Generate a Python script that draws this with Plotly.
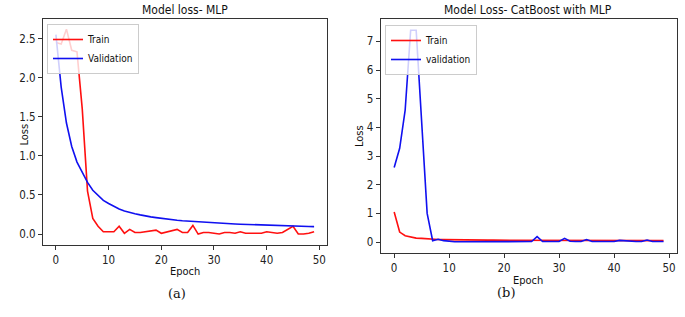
import plotly.graph_objects as go

epochs = list(range(50))

# Panel (a): MLP
mlp_train = [2.45, 2.43, 2.62, 2.35, 2.33, 1.6, 0.55, 0.2, 0.1, 0.03,
             0.03, 0.03, 0.1, 0.01, 0.06, 0.02, 0.02, 0.03, 0.04, 0.05,
             0.01, 0.03, 0.04, 0.06, 0.02, 0.02, 0.11, 0.0, 0.02, 0.02,
             0.01, 0.0, 0.02, 0.02, 0.01, 0.03, 0.01, 0.01, 0.01, 0.01,
             0.03, 0.02, 0.01, 0.02, 0.06, 0.1, 0.0, 0.0, 0.01, 0.03]
mlp_val = [2.55, 1.88, 1.42, 1.12, 0.92, 0.78, 0.66, 0.56, 0.49, 0.43,
           0.39, 0.35, 0.32, 0.295, 0.275, 0.26, 0.245, 0.23, 0.22, 0.21,
           0.2, 0.19, 0.183, 0.176, 0.17, 0.165, 0.16, 0.155, 0.15, 0.146,
           0.142, 0.138, 0.135, 0.132, 0.129, 0.126, 0.123, 0.12, 0.118, 0.115,
           0.113, 0.111, 0.109, 0.107, 0.105, 0.103, 0.101, 0.099, 0.097, 0.095]

# Panel (b): CatBoost with MLP
cb_train = [1.05, 0.35, 0.22, 0.17, 0.14, 0.13, 0.11, 0.1, 0.09, 0.085,
            0.08, 0.078, 0.076, 0.074, 0.072, 0.07, 0.07, 0.069, 0.068, 0.067,
            0.066, 0.065, 0.064, 0.063, 0.062, 0.062, 0.061, 0.06, 0.06, 0.059,
            0.059, 0.058, 0.058, 0.057, 0.057, 0.056, 0.056, 0.055, 0.055, 0.055,
            0.054, 0.054, 0.053, 0.053, 0.053, 0.052, 0.052, 0.052, 0.051, 0.051]
cb_val = [2.6, 3.27, 4.6, 7.39, 7.39, 4.0, 1.0, 0.05, 0.1, 0.05,
          0.02, 0.01, 0.01, 0.01, 0.01, 0.01, 0.02, 0.01, 0.01, 0.02,
          0.01, 0.01, 0.01, 0.02, 0.01, 0.02, 0.19, 0.02, 0.02, 0.02,
          0.02, 0.13, 0.03, 0.02, 0.02, 0.09, 0.02, 0.02, 0.02, 0.02,
          0.02, 0.06, 0.04, 0.02, 0.02, 0.02, 0.07, 0.02, 0.02, 0.02]

titles = ["Model loss- MLP", "Model Loss- CatBoost with MLP"]
legend_a = ["Train", "Validation"]
legend_b = ["Train", "validation"]
captions = ["(a)", "(b)"]
x_ticks = [0, 10, 20, 30, 40, 50]
y_ticks_a = [0.0, 0.5, 1.0, 1.5, 2.0, 2.5]
y_ticks_b = [0, 1, 2, 3, 4, 5, 6, 7]

FONT = "DejaVu Sans Condensed, DejaVu Sans"
RED = "#ff1010"
BLUE = "#1010f0"

fig = go.Figure()
fig.add_trace(go.Scatter(x=epochs, y=mlp_train, mode="lines", name=legend_a[0],
                         line=dict(color=RED, width=1.6), xaxis="x", yaxis="y", legend="legend"))
fig.add_trace(go.Scatter(x=epochs, y=mlp_val, mode="lines", name=legend_a[1],
                         line=dict(color=BLUE, width=1.6), xaxis="x", yaxis="y", legend="legend"))
fig.add_trace(go.Scatter(x=epochs, y=cb_train, mode="lines", name=legend_b[0],
                         line=dict(color=RED, width=1.6), xaxis="x2", yaxis="y2", legend="legend2"))
fig.add_trace(go.Scatter(x=epochs, y=cb_val, mode="lines", name=legend_b[1],
                         line=dict(color=BLUE, width=1.6), xaxis="x2", yaxis="y2", legend="legend2"))

W, H = 685, 317
axis_common = dict(showline=True, linecolor="#333333", linewidth=1, mirror=True,
                   ticks="outside", ticklen=4, tickcolor="#333333", showgrid=False,
                   zeroline=False, tickfont=dict(family=FONT, size=11.5, color="#222222"))

leg_common = dict(xanchor="left", yanchor="top",
                  bgcolor="rgba(255,255,255,0.8)", bordercolor="#cccccc", borderwidth=1,
                  font=dict(family=FONT, size=10, color="#111111"), tracegroupgap=0,
                  itemwidth=30)

fig.update_layout(
    width=W, height=H,
    margin=dict(l=0, r=0, t=0, b=0),
    paper_bgcolor="white", plot_bgcolor="white",
    font=dict(family=FONT, size=11, color="#222222"),
    xaxis=dict(domain=[43 / W, 327 / W], range=[-2.45, 51.45], tickvals=x_ticks,
               anchor="y", **axis_common),
    yaxis=dict(domain=[1 - 245 / H, 1 - 19 / H], range=[-0.14, 2.75], tickvals=y_ticks_a,
               tickformat=".1f", anchor="x", **axis_common),
    xaxis2=dict(domain=[380.7 / W, 677 / W], range=[-2.45, 51.45], tickvals=x_ticks,
                anchor="y2", **axis_common),
    yaxis2=dict(domain=[1 - 252.7 / H, 1 - 19.3 / H], range=[-0.37, 7.77], tickvals=y_ticks_b,
                anchor="x2", **axis_common),
    legend=dict(x=47 / W, y=1 - 24 / H, **leg_common),
    legend2=dict(x=385 / W, y=1 - 25 / H, **leg_common),
    showlegend=True,
)

ann = [
    dict(text=titles[0], x=185 / W, y=1 - 10 / H),
    dict(text=titles[1], x=528 / W, y=1 - 10 / H),
    dict(text="Epoch", x=185 / W, y=1 - 271 / H),
    dict(text="Epoch", x=528 / W, y=1 - 280 / H),
]
for a in ann:
    fig.add_annotation(xref="paper", yref="paper", xanchor="center", yanchor="middle",
                       showarrow=False, font=dict(family=FONT, size=12 if a["text"] in titles else 11,
                                                  color="#111111"), **a)
fig.add_annotation(text="Loss", xref="paper", yref="paper", x=15 / W, y=1 - 135 / H,
                   textangle=-90, showarrow=False, font=dict(family=FONT, size=11, color="#111111"))
fig.add_annotation(text="Loss", xref="paper", yref="paper", x=359 / W, y=1 - 136 / H,
                   textangle=-90, showarrow=False, font=dict(family=FONT, size=11, color="#111111"))
fig.add_annotation(text=captions[0], xref="paper", yref="paper", x=166 / W, y=1 - 303 / H,
                   showarrow=False, font=dict(family="DejaVu Serif, Liberation Serif", size=13, color="#111111"))
fig.add_annotation(text=captions[1], xref="paper", yref="paper", x=517 / W, y=1 - 302 / H,
                   showarrow=False, font=dict(family="DejaVu Serif, Liberation Serif", size=13, color="#111111"))

fig.write_html("out.html", config={"displayModeBar": False},
               post_script="document.body.style.margin='0px';")
